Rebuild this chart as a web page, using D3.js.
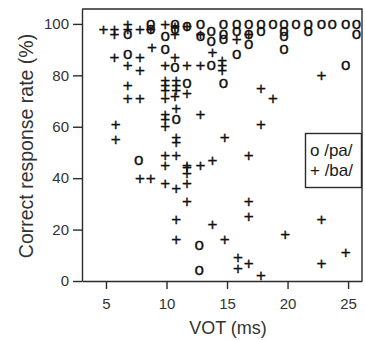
<!DOCTYPE html>
<html>
<head>
<meta charset="utf-8">
<script src="https://cdn.jsdelivr.net/npm/d3@7"></script>
<style>
  html, body { margin: 0; padding: 0; background: #fff; }
  svg { display: block; }
</style>
</head>
<body>
<svg id="chart" width="365" height="340"></svg>
<script>
// ---- data ----
const xTicks = [5, 10, 15, 20, 25];
const yTicks = [0, 20, 40, 60, 80, 100];

// /pa/ responses (plotted as "o")
const paVOT  = [6.8, 8.7, 8.7, 9.9, 9.9, 10.7, 10.7, 11.7, 12.8, 12.8, 13.7, 13.7, 13.7,
                14.7, 14.7, 14.7, 14.7, 15.8, 15.8, 15.8, 16.8, 16.8, 16.8, 17.8, 17.8,
                18.8, 19.7, 19.7, 19.7, 19.7, 20.7, 21.7, 21.7, 22.8, 23.7, 24.8, 25.7, 25.7,
                24.8, 11.7, 10.8, 7.7, 12.7, 12.7, 6.8, 10.7];
const paRate = [96, 100, 98, 95, 90, 100, 98, 99, 100, 95, 97, 93, 84,
                100, 96, 94, 77, 100, 97, 88, 100, 96, 92, 100, 97,
                100, 100, 97, 95, 90, 100, 100, 97, 100, 100, 100, 100, 96,
                84, 77, 63, 47, 14, 4, 88, 83];

// /ba/ responses (plotted as "+")
const baVOT  = [4.8, 5.7, 5.7, 6.8, 6.8, 7.8, 8.7, 9.9, 10.7, 10.7, 11.7, 12.8, 16.8, 15.8,
                5.7, 7.8, 6.8, 7.8, 8.8, 10.7, 9.9, 11.7, 12.8, 13.8, 14.6, 14.6, 14.6,
                6.8, 6.8, 7.8, 9.9, 9.9, 9.9, 10.8, 10.8, 10.8, 9.9, 10.7, 11.7,
                10.8, 9.9, 9.9, 12.8, 5.8, 9.9, 5.8, 10.8, 10.8, 9.9, 10.8, 9.9,
                11.7, 11.7, 11.7, 12.8, 7.8, 8.7, 9.9, 10.8, 11.7, 11.7, 10.8, 10.8,
                13.8, 16.8, 16.8, 14.8, 19.8, 22.8, 24.8, 15.9, 15.9, 16.8, 22.8, 17.8,
                18.8, 17.8, 14.8, 16.8, 13.8, 17.8, 22.8];
const baRate = [98, 98, 96, 100, 98, 98, 98, 100, 99, 96, 99, 96, 96, 94,
                87, 87, 84, 82, 91, 87, 84, 84, 84, 89, 86, 84, 82,
                76, 71, 71, 78, 76, 74, 78, 76, 74, 71, 72, 73,
                67, 65, 63, 65, 61, 60, 55, 56, 54, 49, 49, 45,
                45, 44, 42, 45, 40, 40, 38, 36, 38, 31, 24, 16,
                22, 31, 25, 16, 18, 24, 11, 9, 5, 7, 7, 2,
                71, 61, 56, 49, 47, 75, 80];

const legendItems = [["o", "/pa/"], ["+", "/ba/"]];

// ---- chart ----
const svg = d3.select("#chart");
const font = "'Liberation Sans', Arial, Helvetica, sans-serif";
const ink = "#2b2b2b";

const x = d3.scaleLinear().domain([3.02, 26.15]).range([82, 362]);
const y = d3.scaleLinear().domain([0, 105.8]).range([281, 9]);

// frame top/right
svg.append("path")
  .attr("d", `M${x.range()[0]},${y.range()[1]}H${x.range()[1]}V${y.range()[0]}`)
  .attr("fill", "none").attr("stroke", ink).attr("stroke-width", 1.4);

const gx = svg.append("g")
  .attr("transform", `translate(0,${y.range()[0]})`)
  .call(d3.axisBottom(x).tickValues(xTicks).tickSize(8).tickPadding(9).tickSizeOuter(0));
const gy = svg.append("g")
  .attr("transform", `translate(${x.range()[0]},0)`)
  .call(d3.axisLeft(y).tickValues(yTicks).tickSize(9).tickPadding(4).tickSizeOuter(0));

[gx, gy].forEach(g => {
  g.selectAll("path, line").attr("stroke", ink).attr("stroke-width", 1.4);
  g.selectAll("text").attr("fill", "#333").style("font-family", font).style("font-size", "15px");
});

// axis titles
svg.append("text")
  .attr("x", 228).attr("y", 334)
  .attr("text-anchor", "middle")
  .style("font-family", font).style("font-size", "18px").attr("fill", "#333")
  .text("VOT (ms)");
svg.append("text")
  .attr("transform", "translate(33,146) rotate(-90)")
  .attr("text-anchor", "middle")
  .style("font-family", font).style("font-size", "19.5px").attr("fill", "#333")
  .text("Correct response rate (%)");

// markers
const marks = svg.append("g")
  .style("font-family", font).style("font-size", "17px")
  .attr("fill", "#111").attr("stroke", "#111").attr("stroke-width", 0.35)
  .attr("text-anchor", "middle");

marks.selectAll("text.pa")
  .data(d3.zip(paVOT, paRate))
  .join("text").attr("class", "pa")
  .attr("x", d => x(d[0])).attr("y", d => y(d[1]))
  .attr("dy", "0.27em")
  .text("o");

marks.selectAll("text.ba")
  .data(d3.zip(baVOT, baRate))
  .join("text").attr("class", "ba")
  .attr("x", d => x(d[0])).attr("y", d => y(d[1]))
  .attr("dy", "0.33em")
  .text("+");

// legend
const lg = svg.append("g");
lg.append("rect")
  .attr("x", 305.5).attr("y", 133.5).attr("width", 56).attr("height", 54)
  .attr("fill", "#fff").attr("stroke", ink).attr("stroke-width", 1.4);
lg.selectAll("text")
  .data(legendItems)
  .join("text")
  .attr("x", 310).attr("y", (d, i) => 156 + i * 20)
  .style("font-family", font).style("font-size", "17px").attr("fill", "#1a1a1a")
  .text(d => d[0] + " " + d[1]);
</script>
</body>
</html>
